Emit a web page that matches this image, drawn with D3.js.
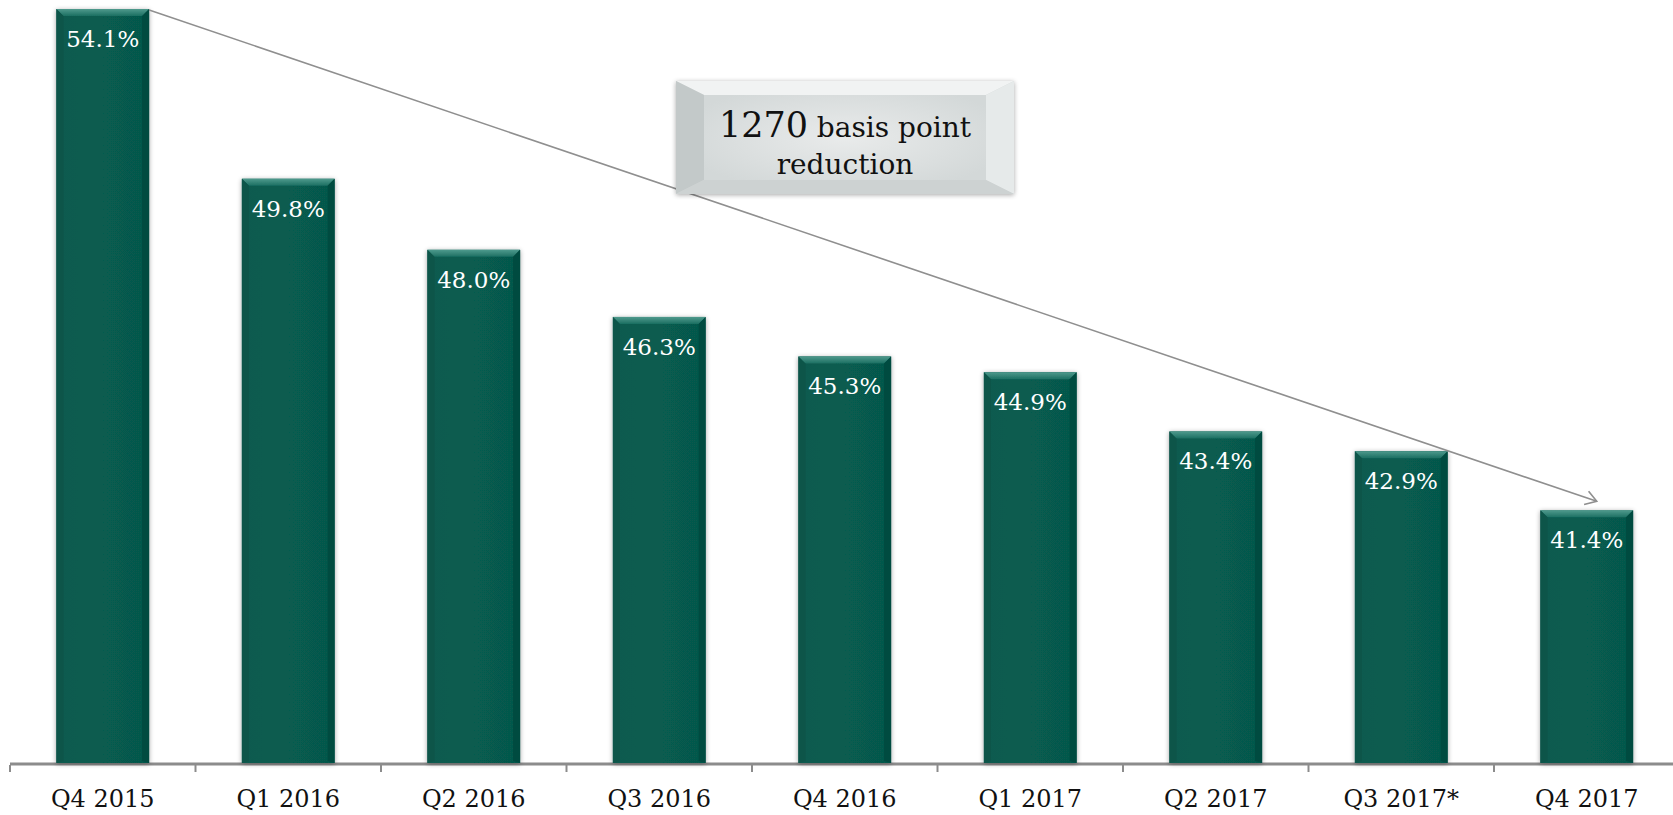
<html>
<head>
<meta charset="utf-8">
<style>
  body { margin: 0; background: white; }
  svg { display: block; }
  text { font-family: "DejaVu Serif", serif; }
</style>
<script src="https://cdnjs.cloudflare.com/ajax/libs/d3/7.8.5/d3.min.js"></script>
</head>
<body>
<div id="chart"></div>
<script>
    var quarters = ['Q4 2015', 'Q1 2016', 'Q2 2016', 'Q3 2016', 'Q4 2016',
                    'Q1 2017', 'Q2 2017', 'Q3 2017*', 'Q4 2017'];
    var ratios = [54.1, 49.8, 48.0, 46.3, 45.3, 44.9, 43.4, 42.9, 41.4];
    var noteLines = [['1270', ' basis point'], ['', 'reduction']];

    var W = 1673, H = 815;
    var left = 10, step = 185.5, base = 763;

    var svg = d3.select('#chart')
            .append('svg')
            .attr('width', W)
            .attr('height', H);

    var x = d3.scaleBand()
            .domain(quarters)
            .range([left, left + step * quarters.length])
            .paddingInner(0.5)
            .paddingOuter(0.25);

    var y = d3.scaleLinear()
            .domain([35, 54.1])
            .range([base, 9]);

    var defs = svg.append('defs');

    var sh = defs.append('filter').attr('id', 'shadow')
            .attr('x', '-20%').attr('y', '-5%').attr('width', '140%').attr('height', '110%');
    sh.append('feGaussianBlur').attr('in', 'SourceAlpha').attr('stdDeviation', 2.5);
    sh.append('feOffset').attr('dx', 0).attr('dy', 1).attr('result', 'b');
    sh.append('feComponentTransfer').append('feFuncA').attr('type', 'linear').attr('slope', 0.35);
    var m = sh.append('feMerge');
    m.append('feMergeNode');
    m.append('feMergeNode').attr('in', 'SourceGraphic');

    var topGrad = defs.append('linearGradient').attr('id', 'barTop')
            .attr('x1', 0).attr('y1', 0).attr('x2', 0).attr('y2', 1);
    topGrad.append('stop').attr('offset', 0).attr('stop-color', '#4f9a8d');
    topGrad.append('stop').attr('offset', 1).attr('stop-color', '#1c6f62');

    var faceGrad = defs.append('linearGradient').attr('id', 'barFace')
            .attr('x1', 0).attr('y1', 0).attr('x2', 1).attr('y2', 0);
    faceGrad.append('stop').attr('offset', 0).attr('stop-color', '#0a5a4f');
    faceGrad.append('stop').attr('offset', 0.5).attr('stop-color', '#075c50');
    faceGrad.append('stop').attr('offset', 1).attr('stop-color', '#06574b');

    // axis line and ticks
    svg.append('line')
            .attr('x1', left).attr('x2', W)
            .attr('y1', base + 1).attr('y2', base + 1)
            .attr('stroke', '#8c8c8c').attr('stroke-width', 3);

    svg.selectAll('.tick')
            .data(d3.range(quarters.length + 1))
            .enter().append('line')
            .attr('x1', function(i) { return left + i * step; })
            .attr('x2', function(i) { return left + i * step; })
            .attr('y1', base + 2).attr('y2', base + 9)
            .attr('stroke', '#8c8c8c').attr('stroke-width', 2);

    // bars
    var bw = x.bandwidth(), bev = 7;
    var bars = svg.selectAll('.bar')
            .data(ratios)
            .enter().append('g')
            .attr('class', 'bar')
            .attr('filter', 'url(#shadow)');

    bars.append('rect')
            .attr('x', function(d, i) { return x(quarters[i]); })
            .attr('y', function(d) { return y(d); })
            .attr('width', bw)
            .attr('height', function(d) { return base - y(d); })
            .attr('fill', 'url(#barFace)');

    bars.append('path')
            .attr('d', function(d, i) {
                var x0 = x(quarters[i]), y0 = y(d);
                return 'M' + x0 + ',' + y0 + 'L' + (x0 + bw) + ',' + y0 +
                       'L' + (x0 + bw - bev) + ',' + (y0 + bev) + 'L' + (x0 + bev) + ',' + (y0 + bev) + 'Z';
            })
            .attr('fill', 'url(#barTop)');

    bars.append('path')
            .attr('d', function(d, i) {
                var x0 = x(quarters[i]), y0 = y(d);
                return 'M' + x0 + ',' + y0 + 'L' + (x0 + bev) + ',' + (y0 + bev) +
                       'L' + (x0 + bev) + ',' + (base - 2) + 'L' + x0 + ',' + base + 'Z';
            })
            .attr('fill', '#0d5449');

    bars.append('path')
            .attr('d', function(d, i) {
                var x1 = x(quarters[i]) + bw, y0 = y(d);
                return 'M' + x1 + ',' + y0 + 'L' + (x1 - bev) + ',' + (y0 + bev) +
                       'L' + (x1 - bev) + ',' + (base - 2) + 'L' + x1 + ',' + base + 'Z';
            })
            .attr('fill', '#044b41');

    // value labels
    svg.selectAll('.val')
            .data(ratios)
            .enter().append('text')
            .attr('x', function(d, i) { return x(quarters[i]) + bw / 2; })
            .attr('y', function(d) { return y(d) + 38; })
            .attr('text-anchor', 'middle')
            .attr('fill', 'white')
            .style('font-size', '23px')
            .text(function(d) { return d.toFixed(1) + '%'; });

    // category labels
    svg.selectAll('.cat')
            .data(quarters)
            .enter().append('text')
            .attr('x', function(d) { return x(d) + bw / 2; })
            .attr('y', 807)
            .attr('text-anchor', 'middle')
            .attr('fill', '#111')
            .style('font-size', '24px')
            .text(function(d) { return d; });

    // trend arrow
    defs.append('marker').attr('id', 'head')
            .attr('viewBox', '-12 -8 14 16')
            .attr('refX', 0).attr('refY', 0)
            .attr('markerWidth', 14).attr('markerHeight', 16)
            .attr('markerUnits', 'userSpaceOnUse')
            .attr('orient', 'auto')
            .append('path')
            .attr('d', 'M-11,-7L0,0L-11,7')
            .attr('fill', 'none').attr('stroke', '#8f8f8f').attr('stroke-width', 1.6);

    var last = quarters.length - 1;
    svg.append('line')
            .attr('x1', x(quarters[0]) + bw).attr('y1', y(ratios[0]) + 1)
            .attr('x2', x(quarters[last]) + bw / 2 + 10).attr('y2', y(ratios[last]) - 9)
            .attr('stroke', '#8f8f8f').attr('stroke-width', 1.6)
            .attr('marker-end', 'url(#head)');

    // annotation box
    var bx = 676, by = 81, bwid = 338, bh = 113, sb = 28, tb = 14;
    var boxGrad = defs.append('radialGradient').attr('id', 'boxFace');
    boxGrad.append('stop').attr('offset', 0).attr('stop-color', '#e9ebeb');
    boxGrad.append('stop').attr('offset', 1).attr('stop-color', '#d3d8d8');

    var box = svg.append('g').attr('filter', 'url(#shadow)');
    box.append('rect')
            .attr('x', bx).attr('y', by).attr('width', bwid).attr('height', bh)
            .attr('fill', 'url(#boxFace)');
    box.append('path')
            .attr('d', 'M' + bx + ',' + by + 'L' + (bx + bwid) + ',' + by +
                       'L' + (bx + bwid - sb) + ',' + (by + tb) + 'L' + (bx + sb) + ',' + (by + tb) + 'Z')
            .attr('fill', '#f1f3f3');
    box.append('path')
            .attr('d', 'M' + bx + ',' + by + 'L' + (bx + sb) + ',' + (by + tb) +
                       'L' + (bx + sb) + ',' + (by + bh - tb) + 'L' + bx + ',' + (by + bh) + 'Z')
            .attr('fill', '#c3c9c9');
    box.append('path')
            .attr('d', 'M' + (bx + bwid) + ',' + by + 'L' + (bx + bwid - sb) + ',' + (by + tb) +
                       'L' + (bx + bwid - sb) + ',' + (by + bh - tb) + 'L' + (bx + bwid) + ',' + (by + bh) + 'Z')
            .attr('fill', '#e6eaea');
    box.append('path')
            .attr('d', 'M' + bx + ',' + (by + bh) + 'L' + (bx + sb) + ',' + (by + bh - tb) +
                       'L' + (bx + bwid - sb) + ',' + (by + bh - tb) + 'L' + (bx + bwid) + ',' + (by + bh) + 'Z')
            .attr('fill', '#cdd2d2');

    var note = svg.append('text')
            .attr('text-anchor', 'middle')
            .attr('fill', '#111');
    noteLines.forEach(function(line, i) {
        var t = note.append('tspan')
                .attr('x', bx + bwid / 2)
                .attr('y', by + 56 + i * 37);
        if (line[0]) t.append('tspan').style('font-size', '35px').text(line[0]);
        t.append('tspan').style('font-size', '28px').text(line[1]);
    });
</script>
</body>
</html>
